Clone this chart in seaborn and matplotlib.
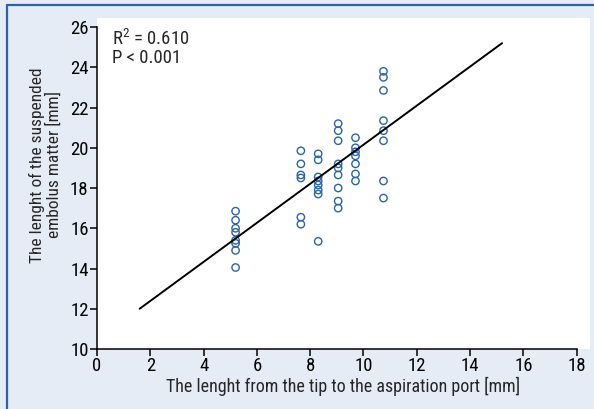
"""Scatter: suspended embolus length vs tip-to-port length"""
import matplotlib
matplotlib.use("Agg")
import matplotlib.pyplot as plt
from matplotlib.lines import Line2D
import seaborn as sns

# Dados
tip_length = [5.2] * 8 + [7.65] * 6 + [8.3] * 8 + [9.05] * 9 + [9.7] * 7 + [10.75] * 8
embolus_length = [
    16.85, 16.4, 16.0, 15.8, 15.4, 15.25, 14.9, 14.05,
    19.85, 19.2, 18.65, 18.5, 16.55, 16.2,
    19.7, 19.4, 18.55, 18.35, 18.15, 17.9, 17.7, 15.35,
    21.2, 20.85, 20.35, 19.2, 19.0, 18.65, 18.0, 17.35, 17.0,
    20.5, 20.0, 19.8, 19.6, 19.2, 18.7, 18.35,
    23.8, 23.5, 22.85, 21.35, 20.85, 20.35, 18.35, 17.5,
]
fit_x = [1.6, 15.2]
fit_y = [12.0, 25.2]
x_ticks = list(range(0, 19, 2))
y_ticks = list(range(10, 27, 2))

sns.set_style("ticks")
plt.rcParams["font.family"] = ["Roboto Condensed", "Liberation Sans", "DejaVu Sans"]
plt.rcParams["mathtext.default"] = "regular"

bg = "#e6ecf5"
blue = "#2b64a6"

fig = plt.figure(figsize=(5.94, 4.09), dpi=100, facecolor=bg)
ax = fig.add_axes([97 / 594, 60 / 409, 493 / 594, 331 / 409])
ax.set_facecolor("white")

sns.lineplot(x=fit_x, y=fit_y, color="black", linewidth=1.4, ax=ax)
sns.scatterplot(x=tip_length, y=embolus_length, marker="o", s=28,
                facecolors="none", edgecolor=blue, linewidth=1.0, ax=ax)

ax.set_xlim(0, 18.5)
ax.set_ylim(10, 26.45)
ax.set_xticks(x_ticks)
ax.set_yticks(y_ticks)
ax.spines["top"].set_visible(False)
ax.spines["right"].set_visible(False)
ax.spines["left"].set_bounds(10, 26)
ax.spines["bottom"].set_bounds(0, 18)
for s in ("left", "bottom"):
    ax.spines[s].set_linewidth(1.1)
    ax.spines[s].set_color("black")
ax.tick_params(direction="out", length=5, width=1.1, labelsize=13.5, pad=1, colors="black")

ax.set_xlabel("The lenght from the tip to the aspiration port [mm]", fontsize=13, labelpad=1)
ax.set_ylabel("The lenght of the suspended\nembolus matter [mm]", fontsize=12.5,
              linespacing=1.05)
ax.yaxis.set_label_coords(-0.072, 0.556)

ax.text(0.56, 25.4, "R$^2$ = 0.610", fontsize=13.5, va="center")
ax.text(0.56, 24.45, "P < 0.001", fontsize=13.5, va="center")

# moldura azul da figura
fig.add_artist(Line2D([7 / 594, 7 / 594], [0, 1 - 5 / 409], color=blue, linewidth=1.6))
fig.add_artist(Line2D([7 / 594, 1], [1 - 5 / 409, 1 - 5 / 409], color=blue, linewidth=1.6))

plt.savefig("out.png", dpi=100, facecolor=bg)
